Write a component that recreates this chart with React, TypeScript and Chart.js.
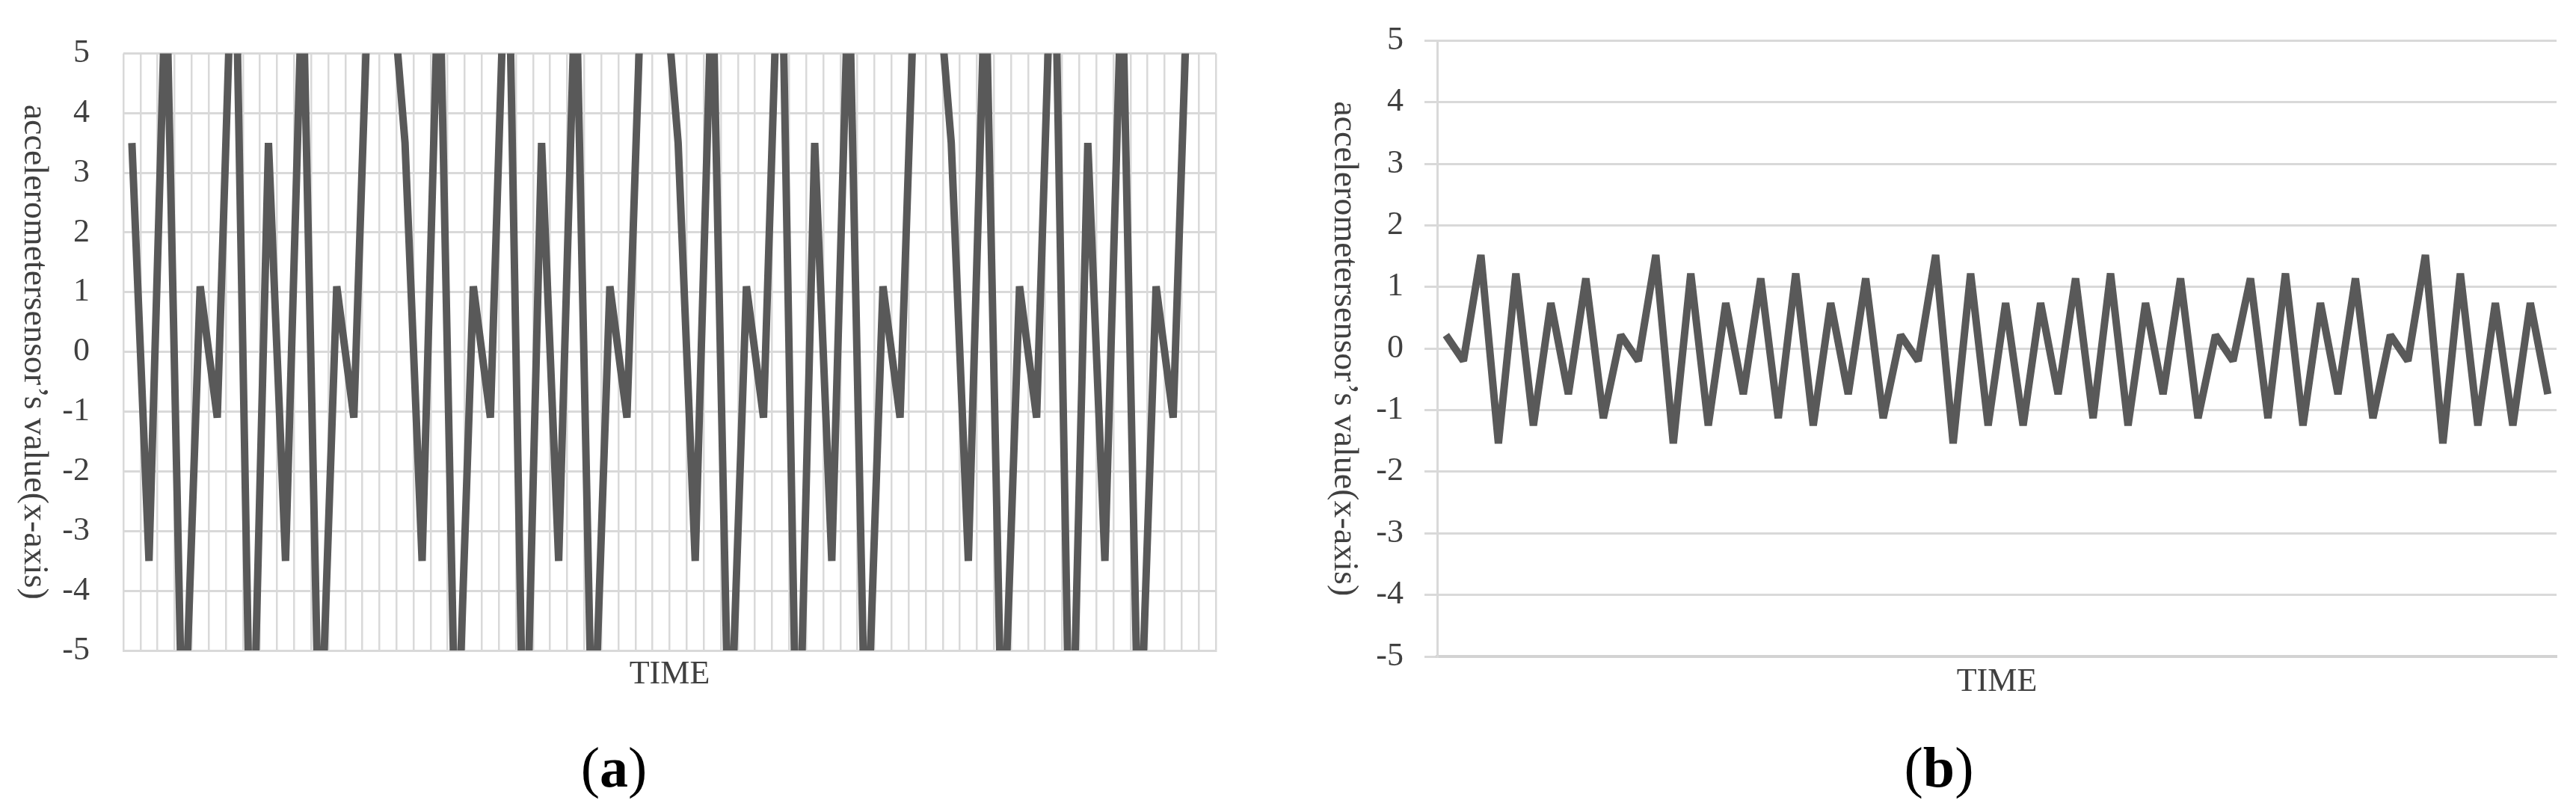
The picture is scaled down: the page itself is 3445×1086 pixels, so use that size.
import React, { useEffect, useRef } from 'react';
import { Chart, registerables } from 'chart.js';

Chart.register(...registerables);

// ---------- data ----------
const timeLabels = [
  '1', '2', '3', '4', '5', '6', '7', '8', '9', '10', '11', '12', '13', '14', '15', '16',
  '17', '18', '19', '20', '21', '22', '23', '24', '25', '26', '27', '28', '29', '30', '31', '32',
  '33', '34', '35', '36', '37', '38', '39', '40', '41', '42', '43', '44', '45', '46', '47', '48',
  '49', '50', '51', '52', '53', '54', '55', '56', '57', '58', '59', '60', '61', '62', '63', '64',
];

// (a) accelerometer x-axis values (peaks beyond ±5 are clipped by the axis range)
const accelA = [
  3.5, -3.5, 6.5, -7.2, 1.1, -1.1, 8, -8, 3.5, -3.5, 6.5, -7.2, 1.1, -1.1, 7.5, 7,
  3.5, -3.5, 6.8, -7.4, 1.1, -1.1, 8, -8, 3.5, -3.5, 6.5, -7.2, 1.1, -1.1, 7.5, 7,
  3.5, -3.5, 6.5, -7.2, 1.1, -1.1, 8, -8, 3.5, -3.5, 6.5, -7.2, 1.1, -1.1, 7.5, 7,
  3.5, -3.5, 6.5, -7.2, 1.1, -1.1, 8, -8, 3.5, -3.5, 6.5, -7.2, 1.1, -1.1, 7.5, 7,
];

// (b) accelerometer x-axis values
const accelB = [
  0.22, -0.2, 1.52, -1.54, 1.22, -1.25, 0.74, -0.74, 1.14, -1.13,
  0.22, -0.2, 1.52, -1.54, 1.22, -1.25, 0.74, -0.74, 1.14, -1.13,
  1.22, -1.25, 0.74, -0.74, 1.14, -1.13, 0.22, -0.2, 1.52, -1.54,
  1.22, -1.25, 0.74, -1.25, 0.74, -0.74, 1.14, -1.13, 1.22, -1.25,
  0.74, -0.74, 1.14, -1.13, 0.22, -0.2, 1.14, -1.13, 1.22, -1.25,
  0.74, -0.74, 1.14, -1.13, 0.22, -0.2, 1.52, -1.54, 1.22, -1.25,
  0.74, -1.25, 0.74, -0.74,
];

const yMin = -5;
const yMax = 5;
const yStep = 1;
const xTitle = 'TIME';
const yTitle = 'accelerometersensor\u2019s value(x-axis)';

// ---------- styles ----------
const FONT = '"Liberation Serif", "Times New Roman", serif';
const TEXT = '#404040';
const GRID = '#d9d9d9';
const LINE = '#595959';
const LINE_WIDTH = 10;

function verticalTitle(id: string, x: number) {
  return {
    id,
    afterDraw(chart: any) {
      const { ctx, chartArea } = chart;
      ctx.save();
      ctx.translate(x, (chartArea.top + chartArea.bottom) / 2);
      ctx.rotate(Math.PI / 2);
      ctx.font = `46px ${FONT}`;
      ctx.fillStyle = TEXT;
      ctx.textAlign = 'center';
      ctx.textBaseline = 'middle';
      ctx.fillText(yTitle, 0, 0);
      ctx.restore();
    },
  };
}

function dataset(values: number[]) {
  return {
    data: values,
    borderColor: LINE,
    borderWidth: LINE_WIDTH,
    borderJoinStyle: 'bevel',
    borderCapStyle: 'butt',
    pointRadius: 0,
    tension: 0,
    fill: false,
  };
}

function buildA(): any {
  return {
    type: 'line',
    data: { labels: timeLabels, datasets: [dataset(accelA)] },
    options: {
      responsive: false,
      animation: false,
      layout: { padding: { top: 52, right: 34, left: 0, bottom: 0 } },
      plugins: { legend: { display: false }, tooltip: { enabled: false } },
      scales: {
        x: {
          type: 'category',
          offset: true,
          grid: { display: true, offset: true, color: GRID, lineWidth: 2.5, drawTicks: false },
          border: { display: true, color: GRID, width: 3 },
          ticks: { display: false, autoSkip: false },
          title: {
            display: true,
            text: xTitle,
            color: TEXT,
            font: { family: FONT, size: 44 },
            padding: { top: 0, bottom: 31 },
          },
          afterFit: (s: any) => {
            s.height = 90;
          },
        },
        y: {
          min: yMin,
          max: yMax,
          ticks: { stepSize: yStep, color: TEXT, font: { family: FONT, size: 44 }, padding: 45 },
          grid: { color: GRID, lineWidth: 3, drawTicks: false },
          border: { display: false },
          afterFit: (s: any) => {
            s.width = 165;
          },
        },
      },
    },
    plugins: [verticalTitle('vtitleA', 45)],
  };
}

function buildB(): any {
  return {
    type: 'line',
    data: { labels: timeLabels, datasets: [dataset(accelB)] },
    options: {
      responsive: false,
      animation: false,
      layout: { padding: { top: 40, right: 26, left: 0, bottom: 0 } },
      plugins: { legend: { display: false }, tooltip: { enabled: false } },
      scales: {
        x: {
          type: 'category',
          offset: true,
          grid: { display: false },
          border: { display: true, color: '#d3d3d3', width: 4 },
          ticks: { display: false, autoSkip: false },
          title: {
            display: true,
            text: xTitle,
            color: TEXT,
            font: { family: FONT, size: 44 },
            padding: { top: 0, bottom: 21 },
          },
          afterFit: (s: any) => {
            s.height = 82;
          },
        },
        y: {
          min: yMin,
          max: yMax,
          ticks: { stepSize: yStep, color: TEXT, font: { family: FONT, size: 44 }, padding: 28 },
          grid: { color: GRID, lineWidth: 3, drawTicks: true, tickLength: 17 },
          border: { display: true, color: GRID, width: 3 },
          afterFit: (s: any) => {
            s.width = 202;
          },
        },
      },
    },
    plugins: [verticalTitle('vtitleB', 77)],
  };
}

function ChartCanvas(props: { build: () => any; left: number; top: number; width: number; height: number }) {
  const ref = useRef<HTMLCanvasElement>(null);
  useEffect(() => {
    const chart = new Chart(ref.current as HTMLCanvasElement, props.build());
    return () => chart.destroy();
  }, []);
  return (
    <canvas
      ref={ref}
      width={props.width}
      height={props.height}
      style={{
        position: 'absolute',
        left: props.left,
        top: props.top,
        width: props.width,
        height: props.height,
      }}
    />
  );
}

const captionStyle = (cx: number): React.CSSProperties => ({
  position: 'absolute',
  left: cx,
  top: 988,
  transform: 'translateX(-50%)',
  fontFamily: FONT,
  fontSize: 76,
  lineHeight: '76px',
  color: '#000',
  whiteSpace: 'nowrap',
});

export default function App() {
  return (
    <div
      style={{
        position: 'fixed',
        left: 0,
        top: 0,
        width: 3445,
        height: 1086,
        background: '#fff',
        overflow: 'hidden',
      }}
    >
      <ChartCanvas build={buildA} left={0} top={0} width={1660} height={960} />
      <ChartCanvas build={buildB} left={1720} top={0} width={1725} height={960} />
      <div style={captionStyle(821)}>
        (<b>a</b>)
      </div>
      <div style={captionStyle(2593)}>
        (<b>b</b>)
      </div>
    </div>
  );
}
